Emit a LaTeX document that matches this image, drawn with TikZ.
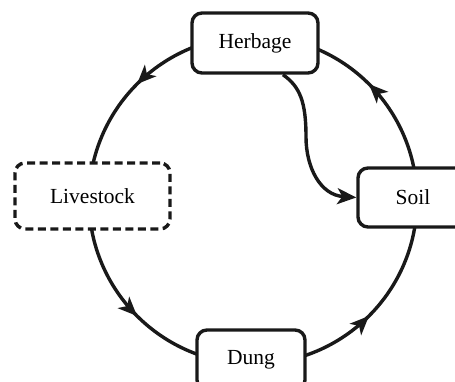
\documentclass[tikz,border=0pt]{standalone}
\usepackage{fontspec}
\setmainfont{Liberation Serif}
\usetikzlibrary{arrows.meta,decorations.markings}
\tikzset{mytip/.tip={Stealth[length=19pt,width=16pt,inset=5pt]}}
\begin{document}
\begin{tikzpicture}[x=1pt,y=1pt,
  box/.style={draw=black!90,line width=3.4pt,rounded corners=10pt,fill=white,
    inner sep=0pt,font=\fontsize{21.5}{25}\selectfont},
  cycle/.style={line width=3.4pt,draw=black!90,postaction={decorate},
    decoration={markings,
      mark=at position 0.125 with {\arrow{mytip}},
      mark=at position 0.375 with {\arrow{mytip}},
      mark=at position 0.625 with {\arrow{mytip}},
      mark=at position 0.875 with {\arrow{mytip}}}}]
\useasboundingbox (0,0) rectangle (455,382);
\coordinate (c) at (253,182);
\draw[cycle] (c) circle[radius=164];
\node[box,minimum width=126pt,minimum height=60pt] (herbage) at (255,339) {Herbage};
\node[box,dashed,dash pattern=on 8pt off 4.5pt,minimum width=155pt,minimum height=66pt] (livestock) at (92.5,186) {Livestock};
\node[box,minimum width=110pt,minimum height=59pt] (soil) at (413,184.5) {Soil};
\node[box,minimum width=108pt,minimum height=60pt] (dung) at (251,22) {Dung};
\draw[line width=3.4pt,draw=black!90,-{mytip}]
  ([xshift=28pt]herbage.south) .. controls +(17,-12) and (306,280) .. (306,245)
  .. controls (306,215) and (320,187) .. (soil.west);
\end{tikzpicture}
\end{document}
